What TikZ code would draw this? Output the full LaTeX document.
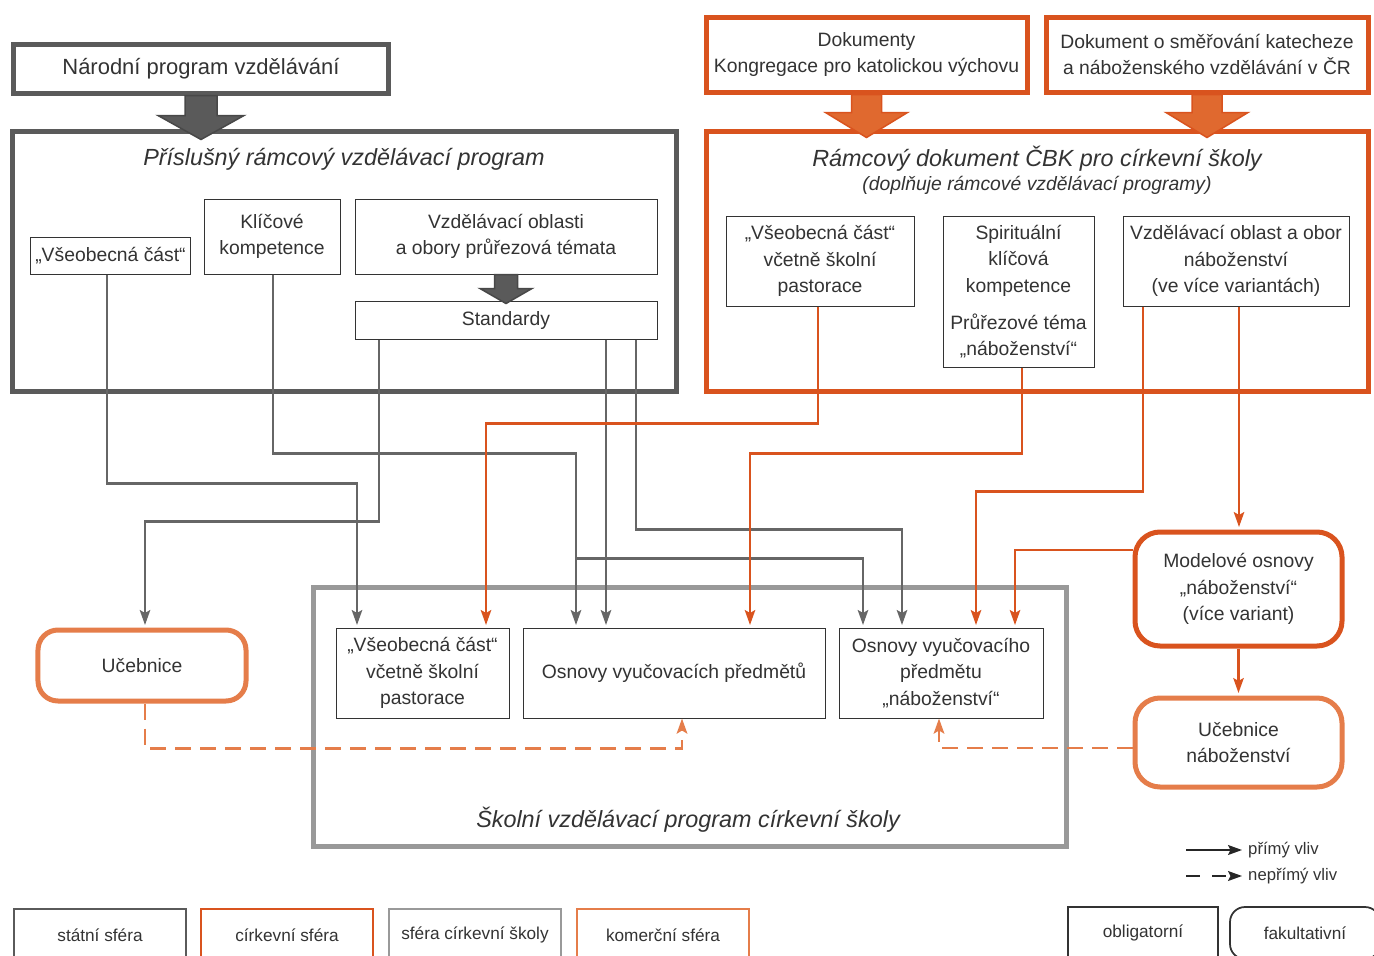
\documentclass[tikz,border=0pt]{standalone}
\usepackage{fontspec}
\setmainfont{Liberation Sans}
\usetikzlibrary{arrows.meta}

\definecolor{stategrey}{HTML}{5A5A5A}
\definecolor{linegrey}{HTML}{666666}
\definecolor{churchorange}{HTML}{D9531E}
\definecolor{churchfill}{HTML}{E0692F}
\definecolor{schoolgrey}{HTML}{999999}
\definecolor{tradeorange}{HTML}{E57D4A}
\definecolor{textgrey}{HTML}{333333}

\tikzset{
  txt/.style={align=center, inner sep=0pt, fill=white, text=textgrey, font=\fontsize{11}{15}\selectfont},
  thinbox/.style={txt, draw=textgrey, line width=0.2mm},
  statebox/.style={txt, draw=stategrey, line width=1mm},
  churchbox/.style={txt, draw=churchorange, line width=1mm},
  schoolbox/.style={txt, draw=schoolgrey, line width=1mm},
  tradebox/.style={txt, draw=tradeorange, line width=1mm, rounded corners=4mm},
  heading/.style={text=textgrey, font=\fontsize{13.3}{16}\selectfont\itshape},
  subheading/.style={text=textgrey, font=\fontsize{11}{13}\selectfont\itshape},
  legbox/.style={line width=0.35mm, minimum width=34.4mm, minimum height=10.4mm, font=\fontsize{9.8}{12}\selectfont},
  legtext/.style={text=textgrey, font=\fontsize{9.5}{11}\selectfont},
  grline/.style={draw=linegrey, line width=0.45mm, shorten >=0.5mm, -{Stealth[length=3mm,width=2.1mm,inset=0.6mm]}},
  orline/.style={draw=churchorange, line width=0.45mm, shorten >=0.5mm, -{Stealth[length=3mm,width=2.1mm,inset=0.6mm]}},
  dashline/.style={draw=tradeorange, line width=0.55mm, dash pattern=on 3.2mm off 1.8mm, -{Stealth[length=3mm,width=2.1mm,inset=0.6mm]}},
  legline/.style={draw=black!85, line width=0.3mm, -{Stealth[length=2.8mm,width=2mm,inset=0.5mm]}},
  grarrow/.style={fill=stategrey, draw=stategrey!80!black, line width=0.3mm},
  orarrow/.style={fill=churchfill, draw=churchorange, line width=0.3mm},
}

\begin{document}
\begin{tikzpicture}[x=0.2mm, y=-0.2mm]
\clip (0,0) rectangle (1374,955);

% statni sfera
\node[statebox, minimum width=74.8mm, minimum height=9.8mm, font=\fontsize{12.5}{15}\selectfont] (narodni) at (201,68.5) {Národní program vzdělávání};
\node[statebox, minimum width=132.6mm, minimum height=52mm] (rvp) at (344.5,261) {};
\node[heading] (rvpTitle) at (344,159) {Příslušný rámcový vzdělávací program};
\node[thinbox, minimum width=31.8mm, minimum height=7.4mm] (rvpVseob) at (110.5,255.5) {„Všeobecná část“};
\node[thinbox, minimum width=27.2mm, minimum height=15mm] (rvpKlic) at (272,236.5) {Klíčové\\kompetence};
\node[thinbox, minimum width=60.4mm, minimum height=15mm] (rvpObl) at (506,236.5) {Vzdělávací oblasti\\a obory průřezová témata};
\node[thinbox, minimum width=60.4mm, minimum height=7.6mm] (rvpStd) at (506,320) {Standardy};
\filldraw[grarrow] ([xshift=-3.2mm]narodni.south) -- ++(0,20) -- ++(-27,0) -- ++(43,24) -- ++(43,-24) -- ++(-27,0) -- ++(0,-20) -- cycle;
\filldraw[grarrow] ([xshift=-2.3mm]rvpObl.south) -- ++(0,14) -- ++(-14.5,0) -- ++(26,15) -- ++(26,-15) -- ++(-14.5,0) -- ++(0,-14) -- cycle;

% cirkevni sfera
\node[churchbox, minimum width=64.2mm, minimum height=15mm] (kongr) at (866.5,54.5) {Dokumenty\\Kongregace pro katolickou výchovu};
\node[churchbox, minimum width=64.4mm, minimum height=15mm] (smer) at (1207,54.5) {Dokument o směřování katecheze\\a náboženského vzdělávání v ČR};
\node[churchbox, minimum width=132.4mm, minimum height=52mm] (cbk) at (1037,261) {};
\node[heading] (cbkTitle) at (1037,159) {Rámcový dokument ČBK pro církevní školy};
\node[subheading] (cbkSub) at (1037,185) {(doplňuje rámcové vzdělávací programy)};
\node[thinbox, minimum width=37.6mm, minimum height=18mm] (cbkVseob) at (820,261) {„Všeobecná část“\\včetně školní\\pastorace};
\node[thinbox, minimum width=30.2mm, minimum height=30.2mm] (cbkSpir) at (1018.5,291.5) {Spirituální\\klíčová\\kompetence\\[6pt]Průřezové téma\\„náboženství“};
\node[thinbox, minimum width=45.2mm, minimum height=18mm] (cbkObl) at (1236,261) {Vzdělávací oblast a obor\\náboženství\\(ve více variantách)};
\filldraw[orarrow] ([xshift=-3mm]kongr.south) -- ++(0,18) -- ++(-26,0) -- ++(41,25) -- ++(41,-25) -- ++(-26,0) -- ++(0,-18) -- cycle;
\filldraw[orarrow] ([xshift=-3mm]smer.south) -- ++(0,18) -- ++(-26,0) -- ++(41,25) -- ++(41,-25) -- ++(-26,0) -- ++(0,-18) -- cycle;
\node[churchbox, rounded corners=5mm, minimum width=41.4mm, minimum height=22.8mm] (model) at (1238.5,589) {Modelové osnovy\\„náboženství“\\(více variant)};

% sfera cirkevni skoly
\node[schoolbox, minimum width=150.4mm, minimum height=51.8mm] (svp) at (690,716.5) {};
\node[heading] (svpTitle) at (688,820) {Školní vzdělávací program církevní školy};
\node[thinbox, minimum width=34.6mm, minimum height=18mm] (svpVseob) at (422.5,673) {„Všeobecná část“\\včetně školní\\pastorace};
\node[thinbox, minimum width=60.4mm, minimum height=18mm] (svpOsn) at (674,673) {Osnovy vyučovacích předmětů};
\node[thinbox, minimum width=40.8mm, minimum height=18mm] (svpNab) at (941,673) {Osnovy vyučovacího\\předmětu\\„náboženství“};

% komercni sfera
\node[tradebox, minimum width=41.6mm, minimum height=14.2mm] (ucebnice) at (142,665.5) {Učebnice};
\node[tradebox, rounded corners=5mm, minimum width=41.4mm, minimum height=17.8mm] (ucebNab) at (1238.5,742.5) {Učebnice\\náboženství};

% primy vliv
\draw[grline] ([xshift=-0.7mm]rvpVseob.south) -- ++(0,209) -| ([xshift=-13.1mm]svpVseob.north);
\draw[grline] ([xshift=0.2mm]rvpKlic.south) -- ++(0,179) -| ([xshift=-19.6mm]svpOsn.north);
\draw[grline] ([xshift=-25.4mm]rvpStd.south) -- ++(0,182) -| ([xshift=0.6mm]ucebnice.north);
\draw[grline] ([xshift=20mm]rvpStd.south) -- ([xshift=20mm]rvpStd.south |- svpOsn.north);
\draw[grline] ([xshift=26mm]rvpStd.south) -- ++(0,190) -| ([xshift=-7.8mm]svpNab.north);
\draw[grline] ([xshift=-19.6mm,yshift=13.8mm]svpOsn.north) -| ([xshift=-15.6mm]svpNab.north);
\draw[orline] ([xshift=-0.4mm]cbkVseob.south) -- ++(0,117) -| ([xshift=12.7mm]svpVseob.north);
\draw[orline] ([xshift=0.7mm]cbkSpir.south) -- ++(0,86) -| ([xshift=15.2mm]svpOsn.north);
\draw[orline] ([xshift=-18.6mm]cbkObl.south) -- ++(0,185) -| ([xshift=7mm]svpNab.north);
\draw[orline] ([xshift=0.6mm]cbkObl.south) -- ([xshift=0.6mm]cbkObl.south |- model.north);
\draw[orline] ([yshift=7.8mm]model.west) -| ([xshift=14.8mm]svpNab.north);
\draw[orline] (model.south) -- (ucebNab.north);

% neprimy vliv
\draw[dashline] ([xshift=0.6mm]ucebnice.south) -- ++(0,45) -| ([xshift=1.6mm]svpOsn.south);
\draw[dashline] ([yshift=-1.1mm]ucebNab.west) -| ([xshift=-0.4mm]svpNab.south);

% legenda
\coordinate (lgS1) at (1186,850);
\coordinate (lgD1) at (1186,876);
\node[legtext, anchor=west] (lgDirect) at (1242,850) {přímý vliv};
\node[legtext, anchor=west] (lgIndirect) at (1242,876) {nepřímý vliv};
\draw[legline] (lgS1) -- (lgDirect.west);
\draw[legline, dash pattern=on 2.8mm off 2.4mm] (lgD1) -- (lgIndirect.west);
\node[statebox, legbox] (lgState) at (100,935) {státní sféra};
\node[churchbox, legbox] (lgChurch) at (287,935) {církevní sféra};
\node[schoolbox, legbox] (lgSchool) at (475,935) {sféra církevní školy};
\node[tradebox, legbox, sharp corners] (lgTrade) at (663,935) {komerční sféra};
\node[thinbox, legbox, minimum width=30mm] (lgObl) at (1143,933) {obligatorní};
\node[thinbox, legbox, minimum width=30mm, rounded corners=3mm] (lgFak) at (1305,933) {fakultativní};
\end{tikzpicture}
\end{document}
